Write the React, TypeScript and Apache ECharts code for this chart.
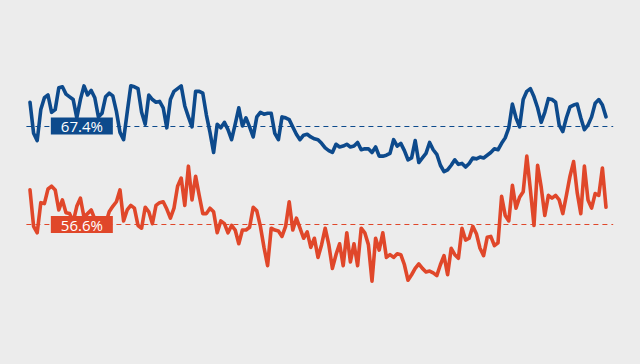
import React, { useEffect, useRef } from "react";
import * as echarts from "echarts";

// Share (%) per period
const BLUE_VALUES = [
  70.0, 66.6, 65.8, 69.2, 70.5, 70.8, 68.9, 69.2, 71.6, 71.7,
  70.9, 70.6, 70.3, 68.3, 70.3, 71.8, 70.8, 71.3, 70.5, 68.4,
  68.8, 70.6, 71.0, 70.7, 69.0, 66.7, 65.9, 68.9, 71.8, 71.7,
  71.5, 68.9, 67.6, 70.8, 70.3, 70.0, 70.1, 69.4, 67.2, 70.3,
  71.2, 71.5, 71.8, 69.6, 68.4, 67.3, 71.2, 71.2, 71.0, 68.6,
  66.7, 64.5, 67.6, 67.2, 67.8, 67.0, 65.9, 67.6, 69.4, 67.4,
  68.3, 67.3, 66.2, 68.4, 68.9, 68.7, 68.8, 68.8, 66.6, 65.9,
  68.4, 68.3, 68.1, 67.3, 66.5, 65.9, 66.4, 66.5, 66.2, 66.0,
  65.9, 65.5, 65.0, 64.7, 64.5, 65.4, 65.1, 65.2, 65.4, 65.1,
  65.2, 65.6, 64.8, 64.9, 64.9, 64.5, 65.1, 64.1, 64.1, 64.2,
  64.4, 65.9, 65.2, 65.5, 64.7, 63.7, 63.9, 65.8, 63.4, 63.9,
  64.4, 65.6, 64.8, 64.3, 63.1, 62.4, 62.6, 63.1, 63.7, 63.2,
  63.3, 62.9, 63.3, 63.9, 63.8, 64.0, 63.9, 64.2, 64.5, 64.9,
  64.8, 65.5, 66.1, 67.2, 69.8, 68.3, 67.3, 70.3, 71.2, 71.5,
  70.6, 69.4, 67.8, 68.9, 70.4, 70.3, 70.0, 67.5, 66.8, 68.3,
  69.5, 69.7, 69.8, 68.3, 67.0, 67.5, 68.4, 69.9, 70.3, 69.7,
  68.4,
];

const RED_VALUES = [
  60.4, 56.4, 55.7, 59.0, 58.9, 60.5, 60.8, 60.4, 58.2, 59.3,
  57.9, 57.8, 56.9, 58.6, 59.5, 57.4, 57.8, 58.2, 57.2, 57.3,
  56.4, 56.7, 58.0, 58.6, 59.1, 60.4, 57.0, 58.2, 58.7, 58.4,
  56.5, 56.2, 58.5, 58.0, 56.7, 58.7, 59.0, 59.1, 58.3, 57.3,
  58.4, 60.8, 61.7, 58.7, 63.0, 59.3, 61.9, 59.8, 57.8, 57.8,
  58.4, 58.0, 55.7, 57.0, 56.7, 55.7, 56.5, 56.0, 54.5, 56.0,
  56.0, 56.3, 58.5, 58.1, 56.4, 54.1, 52.1, 56.2, 56.0, 55.9,
  55.3, 56.4, 59.1, 56.0, 57.3, 56.2, 55.1, 55.8, 54.1, 55.1,
  53.0, 54.4, 56.2, 54.4, 51.8, 53.3, 54.5, 52.1, 55.7, 52.5,
  54.5, 52.1, 56.2, 55.7, 54.4, 50.4, 55.1, 53.8, 55.7, 53.0,
  53.3, 53.0, 53.4, 53.3, 52.2, 50.5, 51.1, 51.8, 52.3, 51.8,
  51.4, 51.5, 51.3, 51.0, 52.2, 53.2, 51.1, 54.0, 53.3, 52.9,
  56.2, 54.9, 55.1, 56.4, 55.6, 54.0, 53.2, 55.2, 55.3, 54.3,
  54.6, 59.7, 57.6, 57.0, 60.9, 58.4, 59.6, 60.2, 64.1, 60.4,
  56.5, 63.1, 60.7, 57.6, 59.8, 59.5, 59.8, 59.3, 57.8, 59.8,
  61.9, 63.5, 60.1, 57.8, 63.0, 59.3, 58.4, 60.0, 59.8, 62.8,
  58.5,
];

const BLUE_AVG = 67.4;
const RED_AVG = 56.6;
const BLUE_LABEL = "67.4%";
const RED_LABEL = "56.6%";

const BLUE = "#0d4a8c";
const RED = "#e0472a";
const BG = "#ececec";

export default function App() {
  const ref = useRef<HTMLDivElement>(null);

  useEffect(() => {
    document.body.style.margin = "0";
    const chart = echarts.init(ref.current!, null, { renderer: "svg" });
    const labelX = 14.4;
    const mkSeries = (name: string, values: number[], color: string, avg: number, text: string) => ({
      name,
      type: "line",
      data: values.map((v, i) => [i, v]),
      symbol: "none",
      showSymbol: false,
      clip: false,
      lineStyle: { color, width: 3.6, join: "round", cap: "round" },
      itemStyle: { color },
      markLine: {
        silent: true,
        symbol: ["none", "none"],
        label: { show: false },
        lineStyle: { color, width: 1, type: [5, 4] },
        data: [{ yAxis: avg }],
      },
      markPoint: {
        silent: true,
        symbol: "rect",
        symbolSize: [62, 17],
        itemStyle: { color },
        label: {
          show: true,
          color: "#ffffff",
          fontSize: 15,
          fontFamily: "Open Sans",
          formatter: text,
        },
        data: [{ coord: [labelX, avg], value: text }],
      },
    });

    chart.setOption({
      animation: false,
      backgroundColor: BG,
      grid: { left: 26.4, right: 26.8, top: 0, bottom: 0 },
      xAxis: { type: "value", min: -1, max: 162, show: false },
      yAxis: { type: "value", min: 41.32, max: 81.21, show: false },
      series: [
        mkSeries("red", RED_VALUES, RED, RED_AVG, RED_LABEL),
        mkSeries("blue", BLUE_VALUES, BLUE, BLUE_AVG, BLUE_LABEL),
      ],
    });
    return () => chart.dispose();
  }, []);

  return <div ref={ref} style={{ width: 640, height: 364, background: BG }} />;
}
